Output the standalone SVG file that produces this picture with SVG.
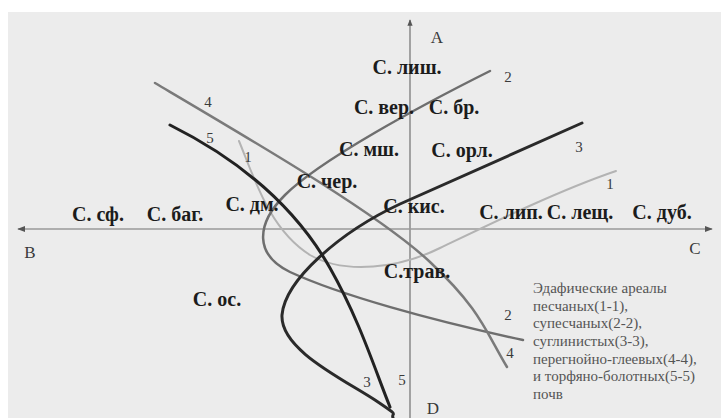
<svg xmlns="http://www.w3.org/2000/svg" width="721" height="418" viewBox="0 0 721 418">
<style>
.lbl{font-family:"Liberation Serif","Times New Roman",serif;font-weight:bold;font-size:20px;fill:#1c1c1c}
.num{font-family:"Liberation Serif","Times New Roman",serif;font-size:15px;fill:#3a3a3a}
.ax{font-family:"Liberation Serif","Times New Roman",serif;font-size:17px;fill:#3a3a3a}
.leg{font-family:"Liberation Serif","Times New Roman",serif;font-size:15px;fill:#555}
.c{fill:none;stroke-linecap:round}
</style>
<defs>
<marker id="ah" viewBox="0 0 10 10" refX="9" refY="5" markerWidth="5" markerHeight="5" orient="auto-start-reverse">
<path d="M0,1 L10,5 L0,9 z" fill="#555"/>
</marker>
</defs>
<rect x="0" y="0" width="721" height="418" fill="#ffffff"/>
<rect x="8" y="12" width="713" height="406" fill="#ececec"/>
<g id="connectors">
<line id="axis-AD" x1="410" y1="418" x2="410" y2="20" stroke="#7a7a7a" stroke-width="1.3" marker-end="url(#ah)"/>
<line id="axis-BC" x1="18" y1="229" x2="712" y2="229" stroke="#9a9a9a" stroke-width="1.6" marker-start="url(#ah)" marker-end="url(#ah)"/>
<path id="curve1" class="c" d="M239,141 C255,180 270,230 310,255 C345,275 400,268 440,248 C490,224 560,190 616,171" stroke="#b3b3b3" stroke-width="2"/>
<path id="curve2" class="c" d="M490,71 C420,106 320,160 285,195 C255,225 255,255 290,272 C340,295 430,320 523,340" stroke="#6e6e6e" stroke-width="2.5"/>
<path id="curve4" class="c" d="M155,83 C260,145 380,215 430,262 S485,330 507,367" stroke="#7a7a7a" stroke-width="2.5"/>
<path id="curve3" class="c" d="M582,123 L400,204 C340,232 285,280 282,315 C280,350 345,380 375,400 S388,410 394,420" stroke="#2a2a2a" stroke-width="3"/>
<path id="curve5" class="c" d="M170,125 C250,165 300,215 330,268 S375,370 390,407" stroke="#222" stroke-width="3"/>
</g>
<g id="axis-labels">
<text class="ax" x="437" y="43" text-anchor="middle">A</text>
<text class="ax" x="30" y="258" text-anchor="middle">B</text>
<text class="ax" x="695" y="254" text-anchor="middle">C</text>
<text class="ax" x="433" y="414" text-anchor="middle">D</text>
</g>
<g id="curve-numbers">
<text class="num" x="208" y="107" text-anchor="middle">4</text>
<text class="num" x="210" y="143" text-anchor="middle">5</text>
<text class="num" x="248" y="162" text-anchor="middle">1</text>
<text class="num" x="508" y="82" text-anchor="middle">2</text>
<text class="num" x="579" y="152" text-anchor="middle">3</text>
<text class="num" x="610" y="189" text-anchor="middle">1</text>
<text class="num" x="508" y="320" text-anchor="middle">2</text>
<text class="num" x="510" y="358" text-anchor="middle">4</text>
<text class="num" x="367" y="387" text-anchor="middle">3</text>
<text class="num" x="402" y="385" text-anchor="middle">5</text>
</g>
<g id="n-lish"><text class="lbl" x="407" y="74" text-anchor="middle">С. лиш.</text></g>
<g id="n-ver"><text class="lbl" x="384" y="114" text-anchor="middle">С. вер.</text></g>
<g id="n-br"><text class="lbl" x="454" y="114" text-anchor="middle">С. бр.</text></g>
<g id="n-msh"><text class="lbl" x="369" y="156" text-anchor="middle">С. мш.</text></g>
<g id="n-orl"><text class="lbl" x="462" y="157" text-anchor="middle">С. орл.</text></g>
<g id="n-cher"><text class="lbl" x="327" y="188" text-anchor="middle">С. чер.</text></g>
<g id="n-dm"><text class="lbl" x="252" y="211" text-anchor="middle">С. дм.</text></g>
<g id="n-kis"><text class="lbl" x="414" y="213" text-anchor="middle">С. кис.</text></g>
<g id="n-sf"><text class="lbl" x="98" y="221" text-anchor="middle">С. сф.</text></g>
<g id="n-bag"><text class="lbl" x="175" y="221" text-anchor="middle">С. баг.</text></g>
<g id="n-lip"><text class="lbl" x="511" y="219" text-anchor="middle">С. лип.</text></g>
<g id="n-lesch"><text class="lbl" x="580" y="219" text-anchor="middle">С. лещ.</text></g>
<g id="n-dub"><text class="lbl" x="662" y="219" text-anchor="middle">С. дуб.</text></g>
<g id="n-trav"><text class="lbl" x="417" y="278" text-anchor="middle">С.трав.</text></g>
<g id="n-os"><text class="lbl" x="217" y="306" text-anchor="middle">С. ос.</text></g>
<g id="legend">
<text class="leg" x="533" y="293">Эдафические ареалы</text>
<text class="leg" x="533" y="311">песчаных(1-1),</text>
<text class="leg" x="533" y="328">супесчаных(2-2),</text>
<text class="leg" x="533" y="346">суглинистых(3-3),</text>
<text class="leg" x="533" y="364">перегнойно-глеевых(4-4),</text>
<text class="leg" x="533" y="381">и торфяно-болотных(5-5)</text>
<text class="leg" x="533" y="399">почв</text>
</g>
</svg>
